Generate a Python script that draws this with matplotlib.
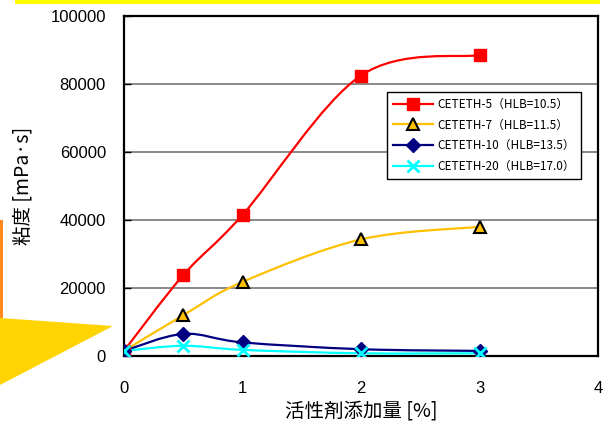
import numpy as np
import matplotlib.pyplot as plt
from matplotlib.path import Path
from matplotlib.patches import PathPatch, Polygon, Rectangle
from matplotlib.lines import Line2D

# データ
conc = [0, 0.5, 1, 2, 3]
ceteth5 = [1500, 23800, 41500, 82500, 88500]
ceteth7 = [1500, 12000, 21800, 34300, 38000]
ceteth10 = [1500, 6500, 4000, 2000, 1500]
ceteth20 = [1500, 3000, 1800, 800, 800]
labels = ['CETETH-5（HLB=10.5）', 'CETETH-7（HLB=11.5）',
          'CETETH-10（HLB=13.5）', 'CETETH-20（HLB=17.0）']
yticks = [0, 20000, 40000, 60000, 80000, 100000]
xticks = [0, 1, 2, 3, 4]

W, H = 612, 428
fig = plt.figure(figsize=(W / 100, H / 100), dpi=100)
fig.patch.set_facecolor('white')
ax = fig.add_axes([124 / W, 72 / H, 474 / W, 340 / H])


def px(x, y):
    return (x / W, 1 - y / H)


# 飾り (黄色の帯と矢印)
fig.patches.append(Rectangle(px(15, 4), 585 / W, 4 / H, transform=fig.transFigure,
                             facecolor='#FFFF00', edgecolor='none', zorder=0))
fig.patches.append(Polygon([px(0, 318), px(113, 326), px(0, 385)], closed=True,
                           transform=fig.transFigure, facecolor='#FFD400',
                           edgecolor='none', zorder=0))
fig.patches.append(Rectangle(px(0, 318), 3 / W, 98 / H, transform=fig.transFigure,
                             facecolor='#FF8A1A', edgecolor='none', zorder=0))


def smooth_path(xs, ys):
    pts = np.column_stack([xs, ys]).astype(float)
    n = len(pts)
    verts = [pts[0]]
    codes = [Path.MOVETO]
    for i in range(n - 1):
        p0 = pts[max(i - 1, 0)]
        p1 = pts[i]
        p2 = pts[i + 1]
        p3 = pts[min(i + 2, n - 1)]
        c1 = p1 + (p2 - p0) / 6
        c2 = p2 - (p3 - p1) / 6
        verts += [c1, c2, p2]
        codes += [Path.CURVE4] * 3
    return Path(verts, codes)


series = [
    (ceteth5, 'red', dict(marker='s', ms=9, mfc='red', mec='red')),
    (ceteth7, '#FFC000', dict(marker='^', ms=9, mfc='#FFC000', mec='black', mew=1.5)),
    (ceteth10, '#000080', dict(marker='D', ms=7, mfc='#000080', mec='#000080')),
    (ceteth20, '#00FFFF', dict(marker='x', ms=9, mec='#00FFFF', mew=2)),
]

handles = []
for i, (vals, col, mk) in enumerate(series):
    patch = PathPatch(smooth_path(conc, vals), facecolor='none', edgecolor=col,
                      lw=1.6, zorder=3 + i)
    ax.add_patch(patch)
    ax.plot(conc, vals, ls='none', zorder=7 + i, **mk)
    handles.append(Line2D([], [], color=col, lw=1.6, **mk))

ax.set_xlim(0, 4)
ax.set_ylim(0, 100000)
ax.set_xticks(xticks)
ax.set_yticks(yticks)
ax.set_xticklabels([str(t) for t in xticks], fontsize=12, family='Liberation Sans')
ax.set_yticklabels([str(t) for t in yticks], fontsize=12, family='Liberation Sans')
ax.tick_params(axis='y', direction='in', length=5, width=1, pad=13)
ax.tick_params(axis='x', length=0, pad=18)
ax.yaxis.grid(True, color='#808080', lw=1.3)
ax.set_axisbelow(True)
for s in ax.spines.values():
    s.set_linewidth(1.6)
    s.set_color('black')

ax.set_ylabel('粘度 [mPa·s]', fontsize=14, family=['Noto Sans CJK JP', 'DejaVu Sans'])
ax.yaxis.set_label_coords(-0.19, 0.5)
ax.set_xlabel('活性剤添加量 [%]', fontsize=14, family=['Noto Sans CJK JP', 'DejaVu Sans'])
ax.xaxis.set_label_coords(0.5, -0.13)

leg = ax.legend(handles, labels, loc='upper left', bbox_to_anchor=(0.542, 0.794),
                prop={'family': ['Noto Sans CJK JP', 'DejaVu Sans'], 'size': 8.5},
                frameon=True, fancybox=False, edgecolor='black', framealpha=1,
                borderpad=0.5, labelspacing=0.65, handlelength=3.4, handletextpad=0.4)
leg.get_frame().set_linewidth(1)
leg.set_zorder(20)

fig.savefig('out.png', dpi=100, facecolor='white')
